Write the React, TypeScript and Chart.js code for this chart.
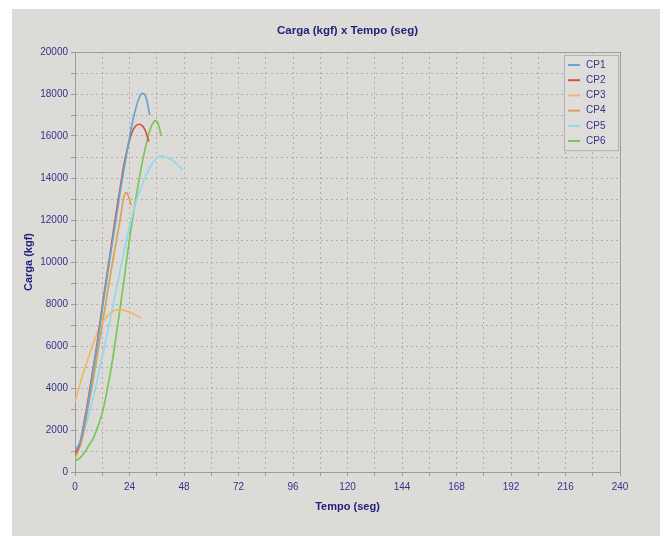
import React, { useEffect, useRef } from "react";
import { Chart, registerables } from "chart.js";

Chart.register(...registerables);

// Tempo (seg) / Carga (kgf) for each test specimen
const cp1Tempo = [0, 2.5, 5, 8, 10, 12.5, 15, 18, 20, 22, 23.5, 25, 26.5, 28, 29.5, 30.5, 31.5, 32.2, 32.9];
const cp1Carga = [1000, 1500, 2800, 4800, 6200, 8100, 9900, 12000, 13400, 14700, 15600, 16500, 17200, 17750, 18030, 18000, 17750, 17400, 17000];

const cp2Tempo = [0, 2.2, 5, 7.5, 9.5, 12.4, 15.3, 17.5, 19.7, 21.5, 23.3, 25, 26.5, 28.2, 29.7, 31, 32.5];
const cp2Carga = [850, 1380, 2950, 4600, 5950, 8200, 10250, 11900, 13400, 14600, 15500, 16150, 16450, 16560, 16480, 16250, 15730];

const cp3Tempo = [0, 2.5, 5, 7.5, 9.5, 11, 13, 15.3, 17, 19, 21, 23, 25, 27, 29.1];
const cp3Carga = [3350, 4300, 5150, 5950, 6550, 6950, 7250, 7550, 7680, 7720, 7710, 7660, 7570, 7470, 7340];

const cp4Tempo = [0, 3, 6, 9, 12, 15, 18, 20, 21, 22, 22.8, 23.6, 24.3, 24.8];
const cp4Carga = [650, 1500, 3200, 5000, 7000, 9000, 10900, 12100, 12800, 13250, 13300, 13100, 12850, 12700];

const cp5Tempo = [0, 3, 6, 9, 12, 15, 18, 21, 24, 27, 30, 33, 35.5, 38, 41, 44, 47.3];
const cp5Carga = [900, 1600, 2700, 4000, 5500, 7000, 8600, 10200, 11700, 12900, 13800, 14500, 14900, 15050, 14950, 14750, 14400];

const cp6Tempo = [0, 2, 4, 6, 8, 10, 12, 14, 16, 18, 20, 22, 24, 26, 28, 30, 32, 34, 35.7, 37, 37.9];
const cp6Carga = [520, 650, 900, 1250, 1600, 2150, 2800, 3800, 5000, 6400, 7900, 9500, 11100, 12500, 13800, 14950, 15900, 16550, 16730, 16450, 16000];

const seriesLabels = ["CP1", "CP2", "CP3", "CP4", "CP5", "CP6"];
const seriesColors = ["#62a8d0", "#d4533e", "#f0b86a", "#dca058", "#92d8ee", "#78c858"];
const seriesTempo = [cp1Tempo, cp2Tempo, cp3Tempo, cp4Tempo, cp5Tempo, cp6Tempo];
const seriesCarga = [cp1Carga, cp2Carga, cp3Carga, cp4Carga, cp5Carga, cp6Carga];

const tempoMax = 240;
const cargaMax = 20000;

const NAVY = "#22227e";
const TICK_TEXT = "#34348e";
const AXIS_GRAY = "#9c9c9c";
const GRID_GRAY = "rgba(140,140,140,0.55)";
const PANEL_BG = "#dddbd7";
const FONT = '"Liberation Sans", Arial, sans-serif';

// Boxed legend drawn in the upper right corner of the plot area
const boxedLegend = {
  id: "boxedLegend",
  afterDraw(chart: any) {
    const { ctx, chartArea } = chart;
    const datasets = chart.data.datasets;
    const rowH = 15.2;
    const w = 54;
    const h = rowH * datasets.length + 4;
    const x = chartArea.right - w - 2;
    const y = chartArea.top + 3;
    ctx.save();
    ctx.fillStyle = "#dfddd9";
    ctx.fillRect(x, y, w, h);
    ctx.strokeStyle = "#b2b2b2";
    ctx.lineWidth = 1;
    ctx.strokeRect(Math.round(x) + 0.5, Math.round(y) + 0.5, w, h);
    ctx.font = `10px ${FONT}`;
    ctx.textBaseline = "middle";
    ctx.textAlign = "left";
    datasets.forEach((ds: any, i: number) => {
      const ry = y + 10 + i * rowH;
      ctx.strokeStyle = ds.borderColor;
      ctx.lineWidth = 2;
      ctx.beginPath();
      ctx.moveTo(x + 4, ry);
      ctx.lineTo(x + 16, ry);
      ctx.stroke();
      ctx.fillStyle = TICK_TEXT;
      ctx.fillText(ds.label, x + 22, ry);
    });
    ctx.restore();
  },
};

export default function App() {
  const canvasRef = useRef<HTMLCanvasElement | null>(null);

  useEffect(() => {
    const canvas = canvasRef.current;
    if (!canvas) return;

    const datasets = seriesLabels.map((label, i) => ({
      label,
      data: seriesTempo[i].map((t, j) => ({ x: t, y: seriesCarga[i][j] })),
      borderColor: seriesColors[i],
      backgroundColor: seriesColors[i],
      borderWidth: 1.7,
      pointRadius: 0,
      fill: false,
      cubicInterpolationMode: "monotone" as const,
      xAxisID: "x",
      yAxisID: "y",
    }));

    const chart = new Chart(canvas, {
      type: "line",
      data: { datasets },
      options: {
        animation: false,
        responsive: false,
        devicePixelRatio: 1,
        layout: { padding: 0 },
        plugins: {
          legend: { display: false },
          title: { display: false },
          tooltip: { enabled: false },
        },
        scales: {
          x: {
            type: "linear",
            position: "bottom",
            min: 0,
            max: tempoMax,
            afterFit: (s: any) => {
              s.height = 64;
            },
            ticks: {
              stepSize: 12,
              autoSkip: false,
              maxRotation: 0,
              padding: 5,
              color: TICK_TEXT,
              font: { family: FONT, size: 10 },
              callback: (v: any) => (Number(v) % 24 === 0 ? String(v) : ""),
            },
            grid: {
              color: GRID_GRAY,
              lineWidth: 1,
              tickLength: 4,
              tickColor: AXIS_GRAY,
            },
            border: { display: true, color: AXIS_GRAY, width: 1, dash: [2, 3] },
            title: {
              display: true,
              text: "Tempo (seg)",
              color: NAVY,
              font: { family: FONT, size: 11, weight: "bold" },
              padding: { top: 0, bottom: 22 },
            },
          },
          xTop: {
            type: "linear",
            position: "top",
            min: 0,
            max: tempoMax,
            afterFit: (s: any) => {
              s.height = 43;
            },
            ticks: { display: false },
            grid: { display: false },
            border: { display: true, color: AXIS_GRAY, width: 1 },
            title: {
              display: true,
              text: "Carga (kgf) x Tempo (seg)",
              color: NAVY,
              font: { family: FONT, size: 11.5, weight: "bold" },
              padding: { top: 15, bottom: 0 },
            },
          },
          y: {
            type: "linear",
            position: "left",
            min: 0,
            max: cargaMax,
            afterFit: (s: any) => {
              s.width = 63;
            },
            ticks: {
              stepSize: 1000,
              autoSkip: false,
              padding: 3,
              color: TICK_TEXT,
              font: { family: FONT, size: 10 },
              callback: (v: any) => (Number(v) % 2000 === 0 ? String(v) : ""),
            },
            grid: {
              color: GRID_GRAY,
              lineWidth: 1,
              tickLength: 4,
              tickColor: AXIS_GRAY,
            },
            border: { display: true, color: AXIS_GRAY, width: 1, dash: [2, 3] },
            title: {
              display: true,
              text: "Carga (kgf)",
              color: NAVY,
              font: { family: FONT, size: 11, weight: "bold" },
              padding: { top: 10, bottom: 0 },
            },
          },
          yRight: {
            type: "linear",
            position: "right",
            min: 0,
            max: cargaMax,
            afterFit: (s: any) => {
              s.width = 40;
            },
            ticks: { display: false },
            grid: { display: false },
            border: { display: true, color: AXIS_GRAY, width: 1 },
          },
        },
      },
      plugins: [boxedLegend],
    });

    return () => chart.destroy();
  }, []);

  return (
    <div
      style={{
        position: "fixed",
        left: 0,
        top: 0,
        width: 666,
        height: 536,
        background: "#ffffff",
      }}
    >
      <div
        style={{
          position: "absolute",
          left: 12,
          top: 9,
          width: 648,
          height: 527,
          background: PANEL_BG,
        }}
      >
        <canvas ref={canvasRef} width={648} height={527} style={{ display: "block" }} />
      </div>
    </div>
  );
}
